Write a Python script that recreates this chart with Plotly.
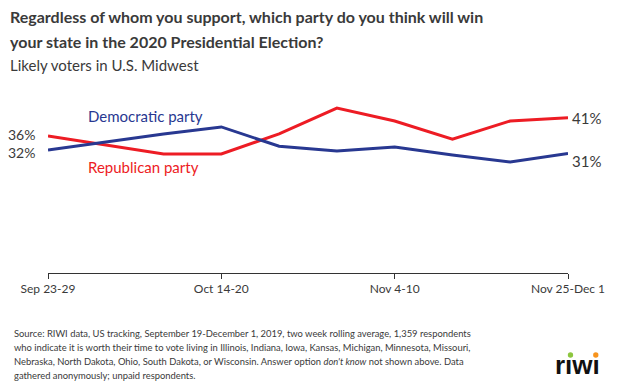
import plotly.graph_objects as go

weeks = ["Sep 23-29", "Sep 30-Oct 6", "Oct 7-13", "Oct 14-20", "Oct 21-27",
         "Oct 28-Nov 3", "Nov 4-10", "Nov 11-17", "Nov 18-24", "Nov 25-Dec 1"]
republican = [36, 33.4, 30.9, 30.9, 36.6, 44.0, 40.3, 35.1, 40.3, 41.2]
democratic = [32, 34.3, 36.6, 38.6, 33.1, 31.7, 32.9, 30.6, 28.6, 31.0]
tick_idx = [0, 3, 6, 9]
tick_labels = ["Sep 23-29", "Oct 14-20", "Nov 4-10", "Nov 25-Dec 1"]

BLUE = "#283891"
RED = "#ED1C24"
TXT = "#3a3a3a"
FONT = "Lato"

# plot area in page pixels (body margin removed below)
L, R, T, B = 48, 572, 80, 273
W, H = R - L, B - T
def px(X):
    return (X - L) / W
def py(Y):
    return (B - Y) / H

x = list(range(len(weeks)))

fig = go.Figure()
fig.add_trace(go.Scatter(x=x, y=republican, mode="lines", line=dict(color=RED, width=3),
                         name="Republican party", hoverinfo="skip"))
fig.add_trace(go.Scatter(x=x, y=democratic, mode="lines", line=dict(color=BLUE, width=3),
                         name="Democratic party", hoverinfo="skip"))

lab = dict(family=FONT, size=14, color=TXT)
lab_r = dict(family=FONT, size=15, color=TXT)
fig.add_annotation(x=0, y=republican[0], text=f"{republican[0]:.0f}%", xanchor="right", xshift=-11,
                   yshift=2, showarrow=False, font=lab)
fig.add_annotation(x=0, y=democratic[0], text=f"{democratic[0]:.0f}%", xanchor="right", xshift=-11,
                   yshift=-2, showarrow=False, font=lab)
fig.add_annotation(x=9, y=republican[-1], text=f"{republican[-1]:.0f}%", xanchor="left", xshift=2,
                   showarrow=False, font=lab_r)
fig.add_annotation(x=9, y=democratic[-1], text=f"{democratic[-1]:.0f}%", xanchor="left", xshift=2,
                   yshift=-7, showarrow=False, font=lab_r)
fig.add_annotation(x=0.65, y=41.7, text="Democratic party", xanchor="left", showarrow=False,
                   font=dict(family=FONT, size=15, color=BLUE))
fig.add_annotation(x=0.65, y=27.1, text="Republican party", xanchor="left", showarrow=False,
                   font=dict(family=FONT, size=15, color=RED))

title_lines = ["Regardless of whom you support, which party do you think will win",
               "your state in the 2020 Presidential Election?"]
for i, t in enumerate(title_lines):
    fig.add_annotation(xref="paper", yref="paper", x=px(8), y=py(17 + i * 25),
                       text=f"<b>{t}</b>", xanchor="left", yanchor="middle", showarrow=False,
                       font=dict(family=FONT, size=16, color=TXT))
fig.add_annotation(xref="paper", yref="paper", x=px(8), y=py(65),
                   text="Likely voters in U.S. Midwest", xanchor="left", yanchor="middle",
                   showarrow=False, font=dict(family=FONT, size=15, color=TXT))

footer_lines = [
    "Source: RIWI data, US tracking, September 19-December 1, 2019, two week rolling average, 1,359 respondents",
    "who indicate it is worth their time to vote living in Illinois, Indiana, Iowa, Kansas, Michigan, Minnesota, Missouri,",
    "Nebraska, North Dakota, Ohio, South Dakota, or Wisconsin. Answer option <i>don't know</i> not shown above. Data",
    "gathered anonymously; unpaid respondents.",
]
for i, t in enumerate(footer_lines):
    fig.add_annotation(xref="paper", yref="paper", x=px(12), y=py(333 + i * 14), text=t,
                       xanchor="left", yanchor="middle", align="left", showarrow=False,
                       font=dict(family=FONT, size=9.4, color=TXT))

# logo
fig.add_annotation(xref="paper", yref="paper", x=px(582), y=py(365),
                   text="<b>r\u0131w\u0131</b>", xanchor="center", yanchor="middle", showarrow=False,
                   font=dict(family="Liberation Sans", size=26, color="#111111"))
for cx, col in [(574.5, "#8DC63F"), (600, "#F7941D")]:
    fig.add_shape(type="circle", xref="paper", yref="paper",
                  x0=px(cx - 2.7), x1=px(cx + 2.7), y0=py(355 + 2.7), y1=py(355 - 2.7),
                  fillcolor=col, line=dict(width=0))

fig.update_layout(
    width=617, height=391,
    margin=dict(l=L, r=617 - R, t=T, b=391 - B),
    paper_bgcolor="white", plot_bgcolor="white",
    showlegend=False,
    xaxis=dict(range=[0, 9], tickmode="array", tickvals=tick_idx, ticktext=tick_labels,
               showgrid=False, zeroline=False, showline=True, linecolor="#333", linewidth=1,
               ticks="outside", ticklen=5, tickcolor="#333",
               tickfont=dict(family=FONT, size=12, color=TXT), fixedrange=True),
    yaxis=dict(range=[-3.1, 52], visible=False, fixedrange=True),
)
fig.write_html("out.html", config={"displayModeBar": False},
               post_script="document.body.style.margin='0px';document.body.style.overflow='hidden';")
